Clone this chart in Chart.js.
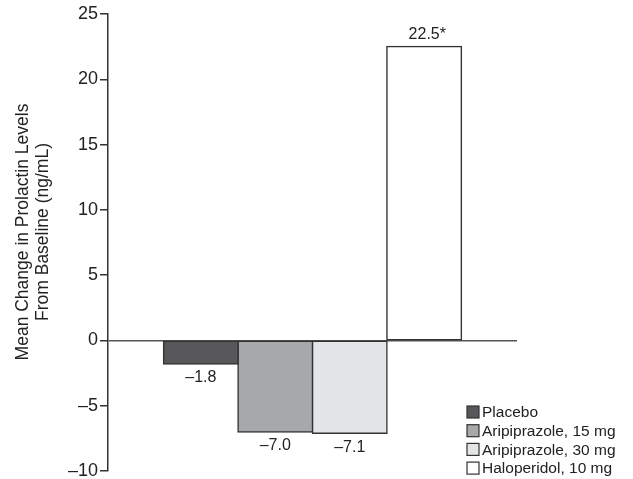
<!DOCTYPE html>
<html>
<head>
<meta charset="utf-8">
<script src="https://cdn.jsdelivr.net/npm/chart.js@4.4.1/dist/chart.umd.min.js"></script>
<style>
  html, body { margin: 0; padding: 0; background: #fff; }
  #wrap { width: 633px; height: 479px; position: relative; }
</style>
</head>
<body>
<div id="wrap"><canvas id="chart" width="633" height="479"></canvas></div>
<script>
// --- data ---
const treatments = ['Placebo', 'Aripiprazole, 15 mg', 'Aripiprazole, 30 mg', 'Haloperidol, 10 mg'];
const meanChange = [-1.8, -7.0, -7.1, 22.5];
const significance = ['', '', '', '*'];
const barColors = ['#58585a', '#a7a8aa', '#e4e5e6', '#ffffff'];
const yMin = -10;
const yMax = 25;
const yStep = 5;
const axisTitle = ['Mean Change in Prolactin Levels', 'From Baseline (ng/mL)'];

const FONT = '"Liberation Sans", Arial, Helvetica, sans-serif';
const TEXT = '#222';

const fmt = v => (v < 0 ? '\u2013' + Math.abs(v).toFixed(1) : v.toFixed(1));

// value labels under / over each bar
const valueLabels = {
    id: 'valueLabels',
    afterDatasetsDraw(chart) {
        const ctx = chart.ctx;
        ctx.save();
        ctx.font = '16px ' + FONT;
        ctx.fillStyle = TEXT;
        chart.data.datasets.forEach((ds, i) => {
            const bar = chart.getDatasetMeta(i).data[0];
            const v = ds.data[0];
            const txt = fmt(v);
            const ty = v < 0 ? bar.y + 6 : bar.y - 4;
            ctx.textBaseline = v < 0 ? 'top' : 'bottom';
            ctx.textAlign = 'center';
            ctx.fillText(txt, bar.x, ty);
            if (significance[i]) {
                const w = ctx.measureText(txt).width;
                ctx.textAlign = 'left';
                ctx.fillText(significance[i], bar.x + w / 2, ty);
            }
        });
        ctx.restore();
    }
};

// rotated two-line axis title, placed like the reference
const axisTitlePlugin = {
    id: 'axisTitlePlugin',
    afterDraw(chart) {
        const ctx = chart.ctx;
        ctx.save();
        ctx.font = '17.5px ' + FONT;
        ctx.fillStyle = TEXT;
        ctx.textAlign = 'center';
        ctx.textBaseline = 'middle';
        ctx.translate(0, 232);
        ctx.rotate(-Math.PI / 2);
        ctx.fillText(axisTitle[0], 0, 23);
        ctx.fillText(axisTitle[1], 0, 43);
        ctx.restore();
    }
};

// legend drawn inside the lower right corner
const boxLegend = {
    id: 'boxLegend',
    afterDraw(chart) {
        const ctx = chart.ctx;
        const x = 467, y0 = 412, rowH = 18.7, box = 12;
        ctx.save();
        ctx.font = '15.5px ' + FONT;
        ctx.textBaseline = 'middle';
        ctx.textAlign = 'left';
        chart.data.datasets.forEach((ds, i) => {
            const y = y0 + i * rowH;
            ctx.fillStyle = ds.backgroundColor;
            ctx.fillRect(x, y - box / 2, box, box);
            ctx.strokeStyle = '#333';
            ctx.lineWidth = 1.2;
            ctx.strokeRect(x, y - box / 2, box, box);
            ctx.fillStyle = TEXT;
            ctx.fillText(ds.label, x + 15, y + 1);
        });
        ctx.restore();
    }
};

const datasets = treatments.map((name, i) => ({
    label: name,
    data: [meanChange[i]],
    backgroundColor: barColors[i],
    borderColor: '#333',
    borderWidth: 1.5,
    borderSkipped: false,
    inflateAmount: 0.8,
    categoryPercentage: 0.728,
    barPercentage: 1
}));

new Chart(document.getElementById('chart'), {
    type: 'bar',
    data: { labels: [''], datasets },
    options: {
        responsive: false,
        animation: false,
        devicePixelRatio: 1,
        layout: { padding: { left: 0, right: 116, top: 14, bottom: 8 } },
        plugins: {
            legend: { display: false },
            tooltip: { enabled: false }
        },
        scales: {
            x: {
                display: false
            },
            y: {
                min: yMin,
                max: yMax,
                afterFit(scale) { scale.width = 108; },
                ticks: {
                    stepSize: yStep,
                    color: TEXT,
                    padding: 2,
                    font: { family: FONT, size: 18, lineHeight: 0.5 },
                    callback: v => (v < 0 ? '\u2013' + Math.abs(v) : String(v))
                },
                grid: {
                    color: c => (c.tick && c.tick.value === 0 ? '#555' : 'rgba(0,0,0,0)'),
                    lineWidth: 1.5,
                    tickColor: '#333',
                    tickLength: 8,
                    tickWidth: 1.5
                },
                border: { display: true, color: '#333', width: 1.5 }
            }
        }
    },
    plugins: [valueLabels, axisTitlePlugin, boxLegend]
});
</script>
</body>
</html>
